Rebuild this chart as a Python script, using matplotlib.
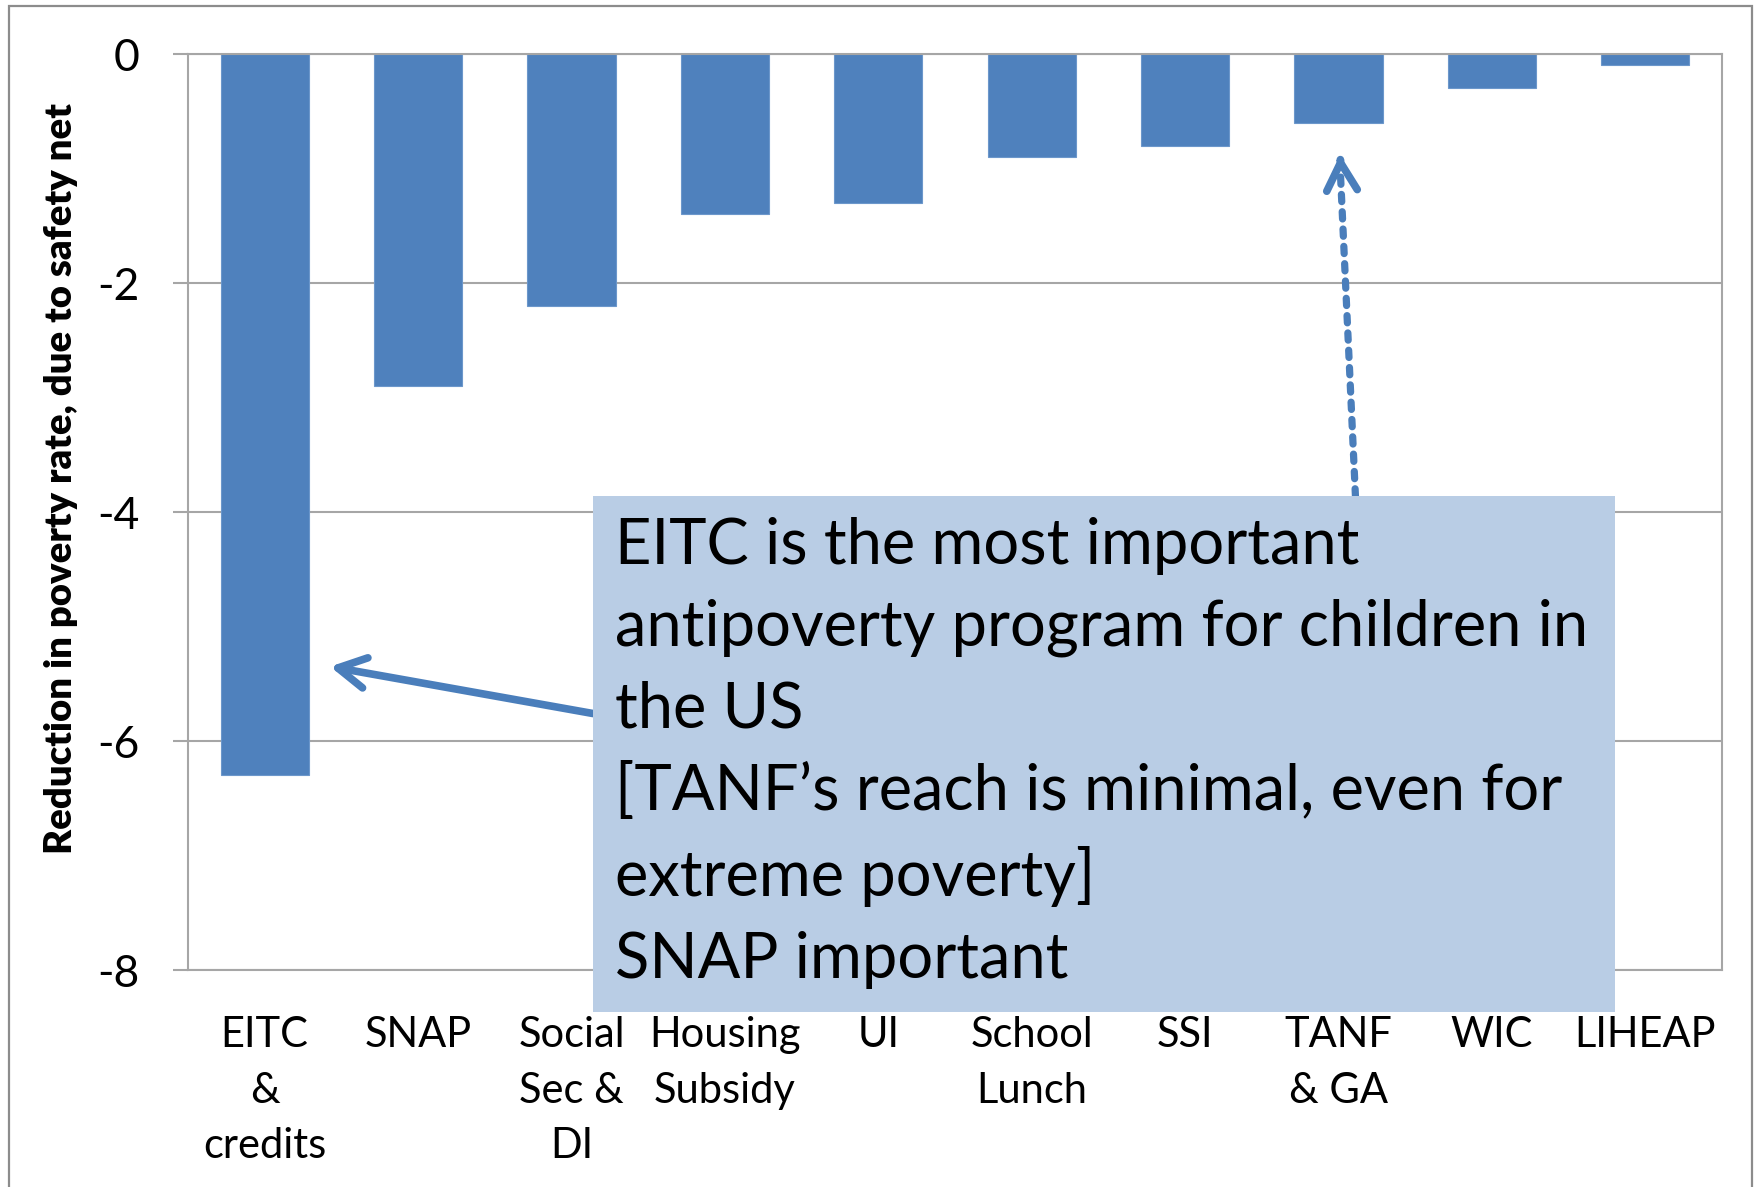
import matplotlib.pyplot as plt
from matplotlib.patches import Rectangle

# values (reduction in child poverty rate, percentage points)
programs = ["EITC\n&\ncredits", "SNAP", "Social\nSec &\nDI", "Housing\nSubsidy", "UI",
            "School\nLunch", "SSI", "TANF\n& GA", "WIC", "LIHEAP"]
reduction = [-6.3, -2.9, -2.2, -1.4, -1.3, -0.9, -0.8, -0.6, -0.3, -0.1]
y_ticks = [0, -2, -4, -6, -8]
note = ("EITC is the most important\n"
        "antipoverty program for children in\n"
        "the US\n"
        "[TANF\u2019s reach is minimal, even for\n"
        "extreme poverty]\n"
        "SNAP important")

plt.rcParams['font.family'] = ['Lato', 'DejaVu Sans']
plt.rcParams['axes.unicode_minus'] = False

bar_blue = '#4F81BD'
line_blue = '#4A7EBB'
grid_grey = '#A6A6A6'

fig = plt.figure(figsize=(17.54, 11.87), dpi=100)

# outer chart frame
fig.patches.append(Rectangle((0.0052, -0.05), 0.9937, 1.045, transform=fig.transFigure,
                             fill=False, edgecolor='#8C8C8C', lw=1.6, zorder=0))

ax = fig.add_axes([0.1072, 0.1828, 0.8746, 0.7717])
x = list(range(len(programs)))
ax.bar(x, reduction, width=0.575, color=bar_blue, edgecolor='#6C97CB', lw=0.8, zorder=2)

ax.set_xlim(-0.5, len(programs) - 0.5)
ax.set_ylim(-8, 0)
ax.set_yticks(y_ticks)
ax.set_yticklabels([str(v) for v in y_ticks])
ax.set_xticks(x)
ax.set_xticklabels(programs)
for lab in ax.get_xticklabels():
    lab.set_linespacing(1.57)

ax.yaxis.grid(True, color=grid_grey, lw=1.5, zorder=0)
ax.set_axisbelow(True)
for s in ax.spines.values():
    s.set_color(grid_grey)
    s.set_linewidth(1.5)
ax.tick_params(axis='y', length=11, width=1.5, color=grid_grey, labelsize=32, pad=24)
ax.tick_params(axis='x', length=0, labelsize=30, pad=33)

fig.text(0.035, 0.597, "Reduction in poverty rate, due to safety net", rotation=90,
         fontsize=27.5, fontweight='heavy', ha='center', va='center')

# arrows pointing from the note to EITC and TANF bars
head = '->,head_length=1.0,head_width=0.55'
ax.annotate('', xy=(0.426, -5.35), xytext=(2.14, -5.76),
            arrowprops=dict(arrowstyle=head, color=line_blue, lw=5.5, shrinkA=0, shrinkB=0,
                            mutation_scale=20, capstyle='round', joinstyle='round'))
ax.annotate('', xy=(7.01, -0.98), xytext=(7.11, -3.86),
            arrowprops=dict(arrowstyle='-', color=line_blue, lw=5.2, linestyle=(0, (1, 1.4)),
                            shrinkA=0, shrinkB=0))
ax.annotate('', xy=(7.01, -0.88), xytext=(7.012, -0.93),
            arrowprops=dict(arrowstyle=head, color=line_blue, lw=5.5, shrinkA=0, shrinkB=0,
                            mutation_scale=20, capstyle='round', joinstyle='round'))

# the note box
fig.patches.append(Rectangle((0.338, 0.1474), 0.583, 0.4347, transform=fig.transFigure,
                             facecolor='#B9CDE5', edgecolor='none', zorder=1))
fig.text(0.3506, 0.5645, note, fontsize=45.5, ha='left', va='top', linespacing=1.5, zorder=3)

fig.savefig('out.png', dpi=100)
